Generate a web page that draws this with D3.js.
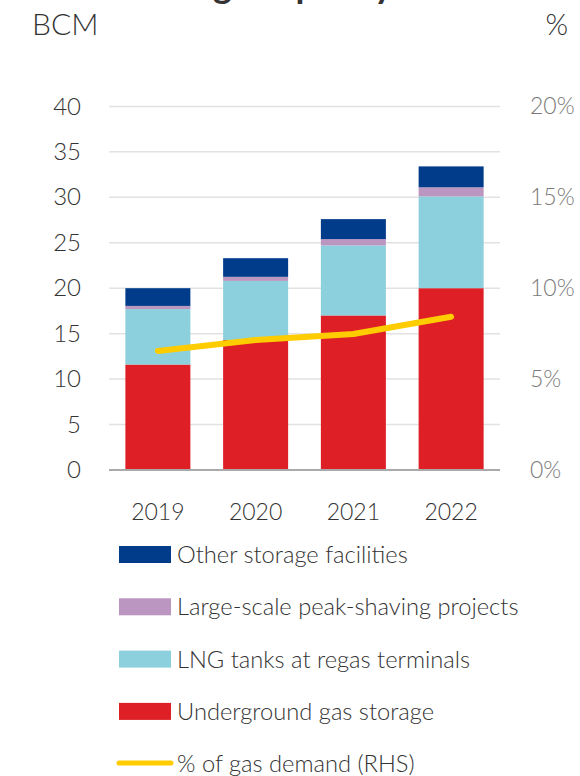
<!DOCTYPE html>
<html>
<head>
<meta charset="utf-8">
<script src="https://cdn.jsdelivr.net/npm/d3@7"></script>
<style>
  html, body { margin: 0; padding: 0; background: #fff; }
  svg { display: block; font-family: Lato, "Open Sans", sans-serif; }
</style>
</head>
<body>
<div id="chart"></div>
<script>
// Storage capacity by type (BCM) and share of gas demand (%)
const years = ["2019", "2020", "2021", "2022"];
const undergroundStorage = [11.6, 14.3, 17.0, 20.0];
const lngTanks = [6.1, 6.5, 7.7, 10.1];
const peakShaving = [0.35, 0.45, 0.7, 1.0];
const otherStorage = [1.95, 2.05, 2.2, 2.3];
const shareOfDemand = [6.55, 7.15, 7.48, 8.43];

const leftTicks = [0, 5, 10, 15, 20, 25, 30, 35, 40];
const rightTicks = [0, 5, 10, 15, 20];

const seriesNames = [
  "Underground gas storage",
  "LNG tanks at regas terminals",
  "Large-scale peak-shaving projects",
  "Other storage facilities"
];
const seriesColors = ["#DE1F26", "#8BD0DC", "#BB96C0", "#003C8A"];
const lineColor = "#FFCC00";

const W = 580, H = 776;
const textColor = "#333333";
const svg = d3.select("#chart").append("svg").attr("width", W).attr("height", H);

// Title (runs off the top edge)
svg.append("text")
  .attr("x", 393).attr("y", -2)
  .attr("text-anchor", "end")
  .attr("font-size", 36).attr("font-weight", 700)
  .attr("fill", "#333")
  .text("Gas storage capacity");

const x = d3.scaleBand().domain(years).range([109, 500]).paddingInner(0.335).paddingOuter(0.1675);
const y = d3.scaleLinear().domain([0, 40]).range([470, 106.4]);
const y2 = d3.scaleLinear().domain([0, 20]).range([470, 106.4]);

// Unit labels
svg.append("text").attr("x", 32).attr("y", 35).attr("font-size", 30).attr("font-weight", 300).attr("fill", textColor).text("BCM");
svg.append("text").attr("x", 568).attr("y", 35).attr("text-anchor", "end").attr("font-size", 29).attr("font-weight", 300).attr("fill", textColor).text("%");

// Gridlines
svg.append("g").selectAll("line").data(leftTicks.filter(d => d > 0)).join("line")
  .attr("x1", 109).attr("x2", 500)
  .attr("y1", d => y(d)).attr("y2", d => y(d))
  .attr("stroke", "#e2e2e2").attr("stroke-width", 1.5);

// Left axis
const leftAxis = svg.append("g").attr("transform", "translate(103,0)")
  .call(d3.axisLeft(y).tickValues(leftTicks).tickSize(0).tickPadding(22));
leftAxis.select(".domain").remove();
leftAxis.selectAll("text").attr("font-size", 24).attr("font-weight", 300).attr("fill", textColor).attr("font-family", "Lato, sans-serif");

// Right axis
const rightAxis = svg.append("g").attr("transform", "translate(508,0)")
  .call(d3.axisRight(y2).tickValues(rightTicks).tickSize(0).tickPadding(22).tickFormat(d => d + "%"));
rightAxis.select(".domain").remove();
rightAxis.selectAll("text").attr("font-size", 23).attr("font-weight", 300).attr("fill", "#7a7a7a").attr("font-family", "Lato, sans-serif");

// Stacked bars
const rows = years.map((yr, i) => ({
  year: yr,
  s0: undergroundStorage[i], s1: lngTanks[i], s2: peakShaving[i], s3: otherStorage[i]
}));
const stack = d3.stack().keys(["s0", "s1", "s2", "s3"])(rows);
svg.append("g").selectAll("g").data(stack).join("g")
  .attr("fill", (d, i) => seriesColors[i])
  .selectAll("rect").data(d => d).join("rect")
  .attr("x", d => x(d.data.year))
  .attr("width", x.bandwidth())
  .attr("y", d => y(d[1]))
  .attr("height", d => y(d[0]) - y(d[1]));

// Baseline
svg.append("line").attr("x1", 109).attr("x2", 500).attr("y1", y(0)).attr("y2", y(0))
  .attr("stroke", "#aaa").attr("stroke-width", 2);

// X axis labels
svg.append("g").selectAll("text").data(years).join("text")
  .attr("x", d => x(d) + x.bandwidth() / 2).attr("y", 520)
  .attr("text-anchor", "middle").attr("font-size", 23).attr("font-weight", 300).attr("fill", textColor)
  .text(d => d);

// Share of demand line (RHS)
const line = d3.line().x((d, i) => x(years[i]) + x.bandwidth() / 2).y(d => y2(d));
svg.append("path").datum(shareOfDemand).attr("d", line)
  .attr("fill", "none").attr("stroke", lineColor).attr("stroke-width", 6)
  .attr("stroke-linecap", "round").attr("stroke-linejoin", "round");

// Legend
const legendItems = [3, 2, 1, 0].map(i => ({ name: seriesNames[i], color: seriesColors[i] }));
const lg = svg.append("g");
legendItems.forEach((d, i) => {
  const top = 546 + i * 52.3;
  lg.append("rect").attr("x", 119).attr("y", top).attr("width", 52).attr("height", 17).attr("fill", d.color);
  lg.append("text").attr("x", 177).attr("y", top + 17).attr("font-size", 23.7).attr("font-weight", 300).attr("fill", textColor).text(d.name);
});
lg.append("line").attr("x1", 119).attr("x2", 171).attr("y1", 763).attr("y2", 763)
  .attr("stroke", lineColor).attr("stroke-width", 5).attr("stroke-linecap", "round");
lg.append("text").attr("x", 177).attr("y", 772).attr("font-size", 23.7).attr("font-weight", 300).attr("fill", textColor).text("% of gas demand (RHS)");
</script>
</body>
</html>
